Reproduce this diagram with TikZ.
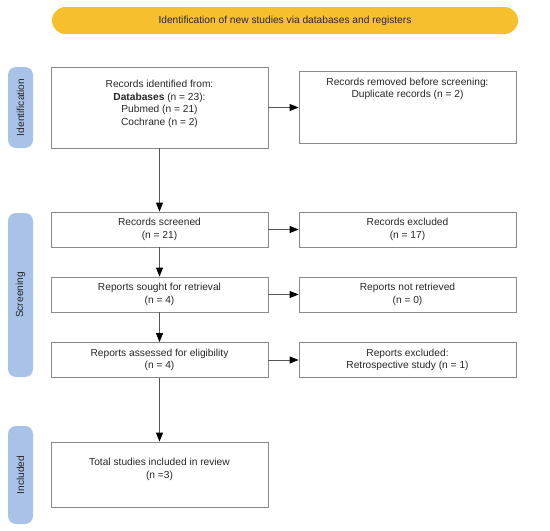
\documentclass[tikz,border=0pt]{standalone}
\usepackage{fontspec}
\setmainfont{Liberation Sans}
\usetikzlibrary{arrows.meta}
\definecolor{bannerfill}{HTML}{F6BF2C}
\definecolor{stagefill}{HTML}{A9C3E8}
\definecolor{boxline}{HTML}{8A8A8A}
\definecolor{arrowline}{HTML}{555555}
\definecolor{ink}{HTML}{262626}
\begin{document}
\begin{tikzpicture}[x=1pt,y=-1pt,
    every node/.style={font=\fontsize{10.2}{12.7}\selectfont, text=ink},
    banner/.style={fill=bannerfill, rounded corners=13.5pt, inner sep=0pt,
      minimum width=466pt, minimum height=27pt},
    stage/.style={fill=stagefill, rounded corners=8pt, inner sep=0pt,
      minimum height=25pt, rotate=90},
    box/.style={draw=boxline, line width=0.8pt, inner sep=0pt,
      minimum width=217pt, minimum height=35pt, align=center}]
      \useasboundingbox (0,0) rectangle (550,531);
      \draw
        (285,20.5) node[banner] (head){Identification of new studies via databases and registers}
        (20.5,107.5) node[stage, minimum width=81pt] (ident){Identification}
        (20.5,295) node[stage, minimum width=164pt] (screen){Screening}
        (20.5,475) node[stage, minimum width=98pt] (incl){Included}
        (159.5,107.5) node[box, minimum height=81pt] (records){\parbox[c][55pt][t]{210pt}{\centering
          Records identified from:\\\textbf{Databases} (n = 23):\\Pubmed (n = 21)\\Cochrane (n = 2)}}
        (407.5,107.5) node[box, minimum height=72pt] (removed){\parbox[c][59.6pt][t]{210pt}{\centering
          Records removed before screening:\\Duplicate records (n = 2)}}
        (159.5,229.5) node[box] (screened){Records screened\\(n = 21)}
        (407.5,229.5) node[box] (excluded){Records excluded\\(n = 17)}
        (159.5,294.5) node[box] (sought){Reports sought for retrieval\\(n = 4)}
        (407.5,294.5) node[box] (notretrieved){Reports not retrieved\\(n = 0)}
        (159.5,360) node[box] (assessed){Reports assessed for eligibility\\(n = 4)}
        (407.5,360) node[box] (reportsexcl){Reports excluded:\\Retrospective study (n = 1)}
        (159.5,474.5) node[box, minimum height=65pt] (total){\parbox[c][32.4pt][t]{210pt}{\centering
          Total studies included in review\\(n =3)}};
      \begin{scope}[-{Triangle[length=9pt,width=7pt,color=black]}, draw=arrowline, line width=0.8pt]
        \draw (records) to (removed);
        \draw (records) to (screened);
        \draw (screened) to (excluded);
        \draw (screened) to (sought);
        \draw (sought) to (notretrieved);
        \draw (sought) to (assessed);
        \draw (assessed) to (reportsexcl);
        \draw (assessed) to (total);
      \end{scope}
    \end{tikzpicture}
\end{document}
